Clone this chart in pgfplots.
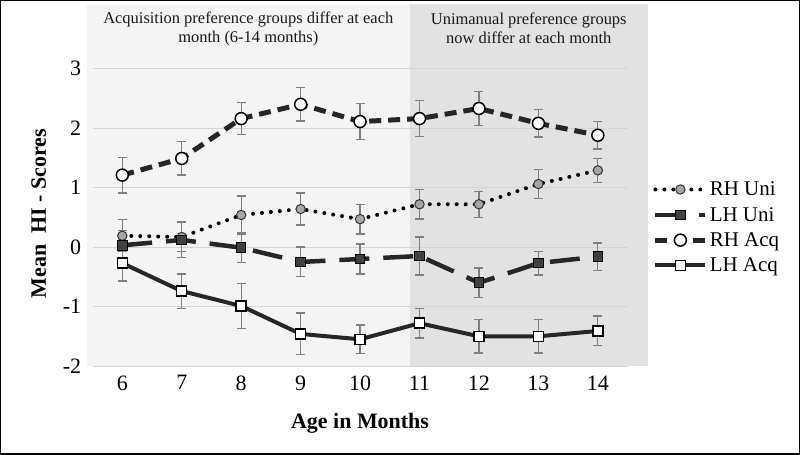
\documentclass[border=0pt]{standalone}
\usepackage{fontspec}
\setmainfont{Liberation Serif}
\usepackage{pgfplots}
\pgfplotsset{compat=1.18}
\definecolor{shadeA}{HTML}{F4F4F4}
\definecolor{shadeB}{HTML}{E2E2E2}
\definecolor{gridc}{HTML}{D4D4D4}
\definecolor{errc}{HTML}{7F7F7F}
\definecolor{runi}{HTML}{A6A6A6}
\definecolor{luni}{HTML}{404040}
\pgfplotsset{myerr/.style={
  error bars/y dir=both, error bars/y explicit,
  error bars/error bar style={errc, line width=1.3pt, solid},
  error bars/error mark options={rotate=90, mark size=4.5pt, errc, line width=1.3pt, solid}}}
\begin{document}
\begin{tikzpicture}
% backgrounds
\fill[shadeA] (-6pt,0pt) rectangle (318pt,363pt);
\fill[shadeB] (318pt,0pt) rectangle (556pt,363pt);
\begin{axis}[
  at={(0pt,0pt)}, anchor=south west,
  scale only axis, width=536pt, height=298pt,
  xmin=5.5, xmax=14.5, ymin=-2, ymax=3,
  xtick={6,...,14}, ytick={-2,...,3},
  ymajorgrids, grid style={gridc, line width=1pt},
  axis line style={draw=none}, tick style={draw=none},
  /pgf/number format/assume math mode=true,
  ticklabel style={font=\fontsize{22}{24}\selectfont},
  yticklabel style={xshift=-8pt},
  xticklabel style={yshift=-6pt},
  xlabel={\textbf{Age in Months}},
  ylabel={\textbf{Mean\ \ HI - Scores}},
  label style={font=\fontsize{22}{24}\selectfont},
  xlabel style={at={(axis description cs:0.5,-0.191)}, anchor=center},
  ylabel style={at={(axis description cs:-0.1007,0.513)}, anchor=center},
  clip=false,
  legend style={at={(axis description cs:1.047,0.466)}, anchor=west, draw=none, fill=none,
    font=\fontsize{21}{23}\selectfont, row sep=6pt, inner sep=0pt},
  legend cell align=left,
  legend image code/.code={\draw[#1, mark repeat=2, mark phase=2] plot coordinates {(0pt,0pt) (25pt,0pt) (50pt,0pt)};},
]
\addplot[myerr, black, line width=4pt, dash pattern=on 0pt off 9pt, line cap=round,
  mark=*, mark size=4.7pt, mark options={solid, fill=runi, draw=black!80, line width=1pt}]
  coordinates {(6,0.19) +- (0,0.27) (7,0.17) +- (0,0.25) (8,0.54) +- (0,0.32) (9,0.64) +- (0,0.27) (10,0.47) +- (0,0.25) (11,0.72) +- (0,0.25) (12,0.72) +- (0,0.22) (13,1.06) +- (0,0.24) (14,1.29) +- (0,0.20)};
\addlegendentry{RH Uni}
\addplot[myerr, black!85, line width=4.5pt, dash pattern=on 30pt off 14pt,
  mark=square*, mark size=4.8pt, mark options={solid, fill=luni, draw=black, line width=1pt}]
  coordinates {(6,0.03) +- (0,0.25) (7,0.12) +- (0,0.30) (8,-0.01) +- (0,0.25) (9,-0.25) +- (0,0.25) (10,-0.20) +- (0,0.25) (11,-0.15) +- (0,0.32) (12,-0.60) +- (0,0.25) (13,-0.27) +- (0,0.20) (14,-0.16) +- (0,0.23)};
\addlegendentry{LH Uni}
\addplot[myerr, black!85, line width=5pt, dash pattern=on 12pt off 7pt,
  mark=*, mark size=6pt, mark options={solid, fill=white, draw=black, line width=1.5pt}]
  coordinates {(6,1.21) +- (0,0.30) (7,1.49) +- (0,0.28) (8,2.16) +- (0,0.27) (9,2.40) +- (0,0.28) (10,2.11) +- (0,0.30) (11,2.16) +- (0,0.30) (12,2.33) +- (0,0.29) (13,2.08) +- (0,0.23) (14,1.88) +- (0,0.23)};
\addlegendentry{RH Acq}
\addplot[myerr, black!85, line width=4pt,
  mark=square*, mark size=5pt, mark options={solid, fill=white, draw=black, line width=1.5pt}]
  coordinates {(6,-0.27) +- (0,0.30) (7,-0.74) +- (0,0.29) (8,-0.99) +- (0,0.38) (9,-1.46) +- (0,0.35) (10,-1.55) +- (0,0.24) (11,-1.28) +- (0,0.25) (12,-1.50) +- (0,0.28) (13,-1.50) +- (0,0.28) (14,-1.41) +- (0,0.25)};
\addlegendentry{LH Acq}
\end{axis}
\node[align=center, font=\fontsize{16.5}{19}\selectfont, text=black!90] at (156pt,338pt) {Acquisition preference groups differ at each\\month (6-14 months)};
\node[align=center, font=\fontsize{16.5}{19}\selectfont, text=black!90] at (437pt,338pt) {Unimanual preference groups\\now differ at each month};
\draw[black, line width=1.5pt] (-92pt,-88pt) rectangle (708pt,366pt);
\end{tikzpicture}
\end{document}
